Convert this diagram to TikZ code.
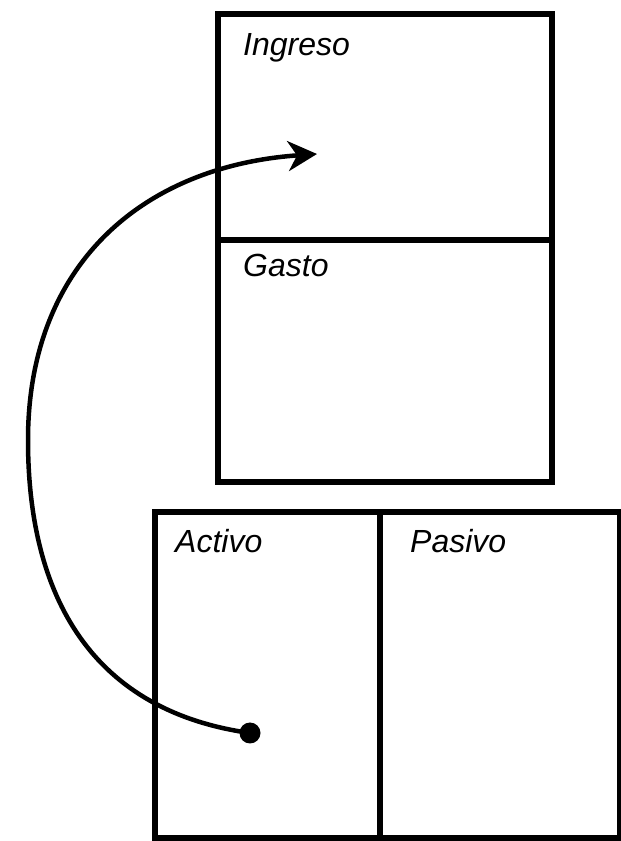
\documentclass[tikz,border=0pt]{standalone}
\usepackage{fontspec}
\usepackage{tikz}
\usetikzlibrary{arrows.meta, positioning}
\newfontfamily\lblfont{Liberation Sans}

\tikzset{
  cell/.style={draw, line width=5.5pt, inner sep=0pt, outer sep=0pt, anchor=north west},
  lbl/.style={anchor=base west, inner sep=0pt, font=\lblfont\itshape\fontsize{32}{38}\selectfont},
  conn/.style={line width=4.5pt, -{Stealth[length=29pt, width=30pt, inset=9pt]}}
}

\begin{document}
\begin{tikzpicture}[x=1pt, y=1pt]
  \useasboundingbox (0,0) rectangle (621,841);
  % upper account
  \node[cell, minimum width=334pt, minimum height=226pt] (ingreso) at (218,827) {};
  \node[cell, minimum width=334pt, minimum height=242pt] (gasto) at (218,601) {};
  % lower account
  \node[cell, minimum width=225pt, minimum height=326pt] (activo) at (155,329) {};
  \node[cell, minimum width=240pt, minimum height=326pt] (pasivo) at (380,329) {};
  \node[lbl] (l-ingreso) at (243,785) {Ingreso};
  \node[lbl] (l-gasto)   at (243,564) {Gasto};
  \node[lbl] (l-activo)  at (175,288) {Activo};
  \node[lbl] (l-pasivo)  at (410,288) {Pasivo};
  % flow from Activo to Ingreso
  \node[circle, fill, inner sep=0pt, minimum size=21pt] (dot) at (250,108) {};
  \coordinate (far) at (28,401);
  \coordinate (tip) at (317,687);
  \draw[conn] (dot.center) to[out=172, in=-90, looseness=1.1] (far)
                           to[out=90, in=184, looseness=1.1] (tip);
\end{tikzpicture}
\end{document}
